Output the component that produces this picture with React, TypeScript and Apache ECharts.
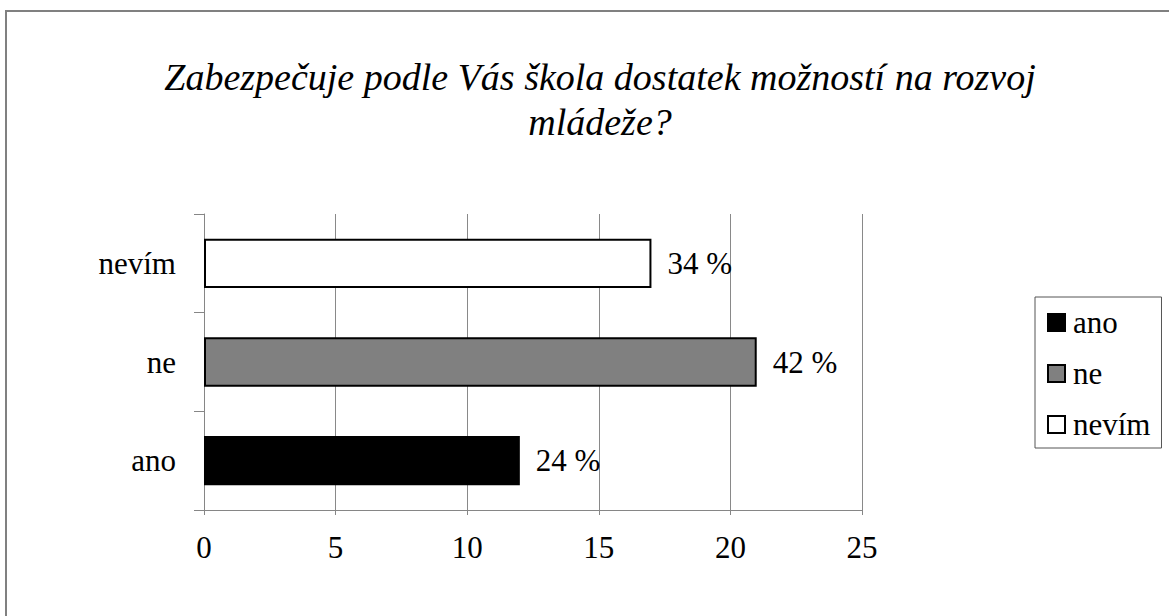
import React, { useEffect, useRef } from "react";
import * as echarts from "echarts";

const categories = ["ano", "ne", "nevím"];
const values = [12, 21, 17];
const percentLabels = ["24 %", "42 %", "34 %"];
const fills = ["#000000", "#808080", "#ffffff"];
const xTicks = { min: 0, max: 25, interval: 5 };
const titleLines = ["Zabezpečuje podle Vás škola dostatek možností na rozvoj", "mládeže?"];

const FONT = "Liberation Serif";
const TITLE_FONT = "Times New Roman";

export default function App() {
  const ref = useRef<HTMLDivElement>(null);
  useEffect(() => {
    if (!ref.current) return;
    const chart = echarts.init(ref.current, undefined, { renderer: "svg" });
    const series = categories.map((name, i) => ({
      name,
      type: "bar",
      barWidth: "50%",
      barGap: "-100%",
      data: categories.map((_, j) => (j === i ? values[i] : null)),
      itemStyle: { color: fills[i], borderColor: "#000000", borderWidth: 2 },
      label: {
        show: true,
        position: "right",
        distance: 16,
        formatter: () => percentLabels[i],
        fontFamily: FONT,
        fontSize: 31,
        color: "#000",
      },
    }));
    const titleGraphics = titleLines.map((t, i) => ({
      type: "text",
      x: 600,
      y: 77 + i * 45,
      style: {
        text: t,
        align: "center",
        verticalAlign: "middle",
        fontFamily: TITLE_FONT,
        fontStyle: "italic",
        fontSize: 38,
        fill: "#000",
      },
    }));
    chart.setOption({
      animation: false,
      backgroundColor: "#ffffff",
      graphic: [
        {
          type: "rect",
          shape: { x: 6, y: 11, width: 1180, height: 640 },
          style: { fill: "none", stroke: "#808080", lineWidth: 2 },
          silent: true,
        },
        ...titleGraphics,
      ],
      grid: { left: 204, right: 307, top: 214, bottom: 106, containLabel: false },
      xAxis: {
        type: "value",
        min: xTicks.min,
        max: xTicks.max,
        interval: xTicks.interval,
        axisLine: { show: true, lineStyle: { color: "#868686", width: 1 } },
        axisTick: { show: true, length: 5, lineStyle: { color: "#868686" } },
        splitLine: { show: true, lineStyle: { color: "#898989", width: 1 } },
        axisLabel: { fontFamily: FONT, fontSize: 31, color: "#000", margin: 22 },
      },
      yAxis: {
        type: "category",
        data: categories,
        axisLine: { show: true, lineStyle: { color: "#868686", width: 1 } },
        axisTick: { show: true, length: 10, lineStyle: { color: "#868686" } },
        axisLabel: { fontFamily: FONT, fontSize: 31, color: "#000", margin: 28 },
      },
      legend: {
        orient: "vertical",
        left: 1035,
        top: 297,
        padding: [10, 11, 8, 12],
        itemGap: 20,
        itemWidth: 17,
        itemHeight: 17,
        icon: "rect",
        borderColor: "#555555",
        borderWidth: 1,
        textStyle: { fontFamily: FONT, fontSize: 31, color: "#000", padding: [0, 0, 0, 3], lineHeight: 31 },
        data: categories,
      },
      series,
    });
    return () => chart.dispose();
  }, []);
  return (
    <div
      ref={ref}
      style={{ position: "fixed", left: 0, top: 0, width: 1169, height: 616, background: "#fff" }}
    />
  );
}
